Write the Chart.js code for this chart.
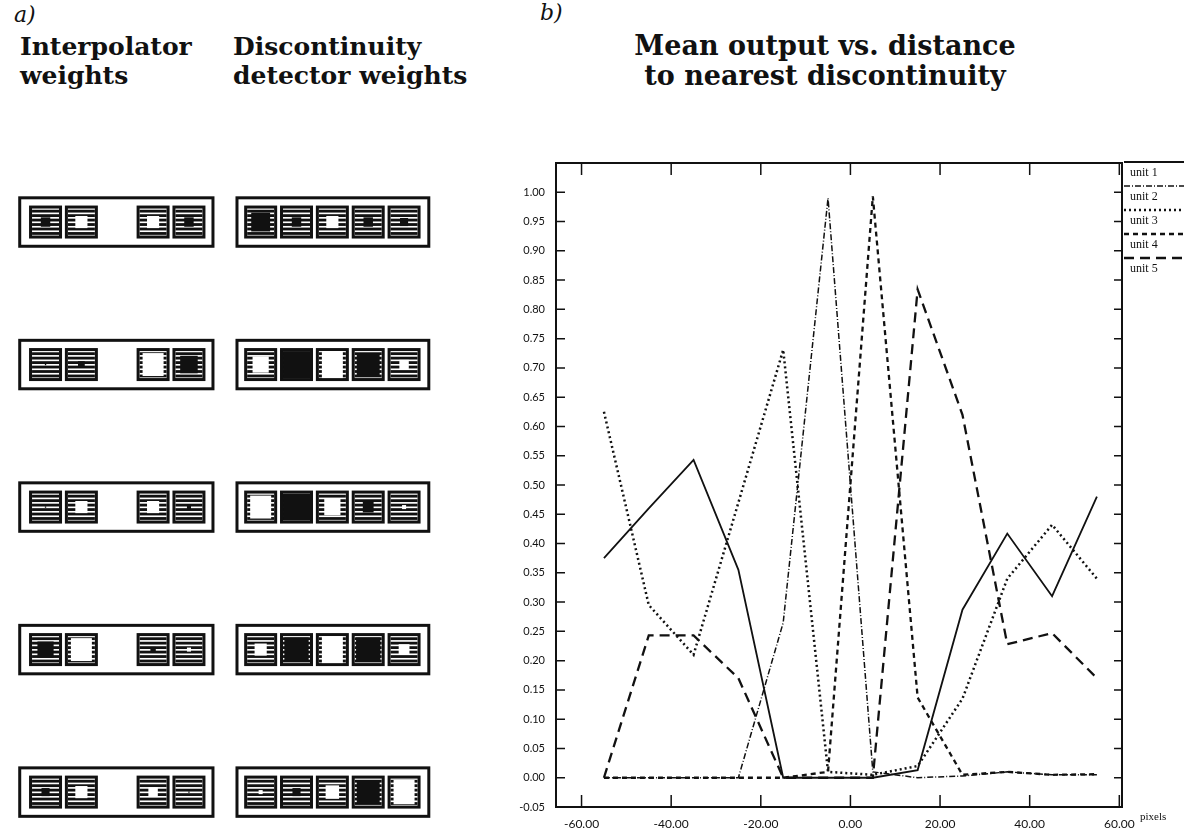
<!DOCTYPE html>
<html>
<head>
<meta charset="utf-8">
<script src="https://cdn.jsdelivr.net/npm/chart.js@4.4.1/dist/chart.umd.min.js"></script>
<style>
  body { margin: 0; background: #fff; width: 1190px; height: 834px; position: relative; overflow: hidden; }
  .txt { position: absolute; font-family: "DejaVu Serif", serif; color: #111; white-space: nowrap; }
  .head { font-weight: bold; font-size: 25px; line-height: 29px; }
  .tag { font-style: italic; font-size: 22px; }
  canvas { position: absolute; }
</style>
</head>
<body>
<div class="txt tag" style="left:14px; top:2px;">a)</div>
<div class="txt head" style="left:20px; top:32px;">Interpolator<br>weights</div>
<div class="txt head" style="left:233px; top:32px;">Discontinuity<br>detector weights</div>
<div class="txt tag" style="left:540px; top:0px;">b)</div>
<div class="txt head" style="left:545px; top:31px; width:560px; text-align:center; font-size:27px; line-height:30px;">Mean output vs. distance<br>to nearest discontinuity</div>

<canvas id="weights" width="460" height="654" style="left:0; top:180px;"></canvas>
<canvas id="myChart" width="710" height="704" style="left:480px; top:130px;"></canvas>

<script>
// distance to nearest discontinuity (pixels)
var xValues = [-55, -45, -35, -25, -15, -5, 5, 15, 25, 35, 45, 55];

// mean output of each hidden unit
var unit1 = [0.375, 0.46, 0.543, 0.355, 0, 0, 0, 0.013, 0.287, 0.417, 0.31, 0.48];
var unit2 = [0, 0, 0, 0, 0.265, 0.99, 0.01, 0, 0.003, 0.01, 0.005, 0.005];
var unit3 = [0.625, 0.295, 0.21, 0.47, 0.731, 0.01, 0.005, 0.02, 0.135, 0.34, 0.432, 0.34];
var unit4 = [0, 0, 0, 0, 0, 0.01, 0.993, 0.137, 0.005, 0.01, 0.005, 0.006];
var unit5 = [0, 0.243, 0.243, 0.17, 0, 0, 0, 0.834, 0.62, 0.228, 0.247, 0.17];

var unitNames = ['unit 1', 'unit 2', 'unit 3', 'unit 4', 'unit 5'];

// tick labels
var xTicks = [-60, -40, -20, 0, 20, 40, 60];
var yTicks = [-0.05, 0, 0.05, 0.10, 0.15, 0.20, 0.25, 0.30, 0.35, 0.40, 0.45, 0.50,
              0.55, 0.60, 0.65, 0.70, 0.75, 0.80, 0.85, 0.90, 0.95, 1.00];

// weights, one row per hidden unit (+ black, - white)
var interpWeights = [
  [0.35, -0.45, -0.45, 0.35],
  [0.05, 0.25, -0.85, 0.65],
  [0.05, -0.45, -0.45, 0.15],
  [0.6, -0.85, 0.2, -0.15],
  [0.3, -0.45, -0.35, 0.05]
];
var detectorWeights = [
  [0.7, 0.35, -0.45, 0.35, 0.3],
  [-0.6, 1.0, -1.0, 0.85, -0.35],
  [-0.85, 1.0, -0.6, 0.4, -0.15],
  [-0.45, 0.9, -1.0, 0.9, -0.4],
  [-0.15, 0.3, -0.5, 0.85, -0.9]
];
var interpSlots = [0, 1, 3, 4];
var detectorSlots = [6, 7, 8, 9, 10];

function pts(arr) {
  return arr.map(function (v, i) { return { x: xValues[i], y: v }; });
}

var lineStyles = [
  { dash: [], width: 1.8 },
  { dash: [6, 2, 1, 2], width: 1.5 },
  { dash: [2, 3], width: 2.5 },
  { dash: [5, 4], width: 2.3 },
  { dash: [10, 6], width: 2.3 }
];
var series = [unit1, unit2, unit3, unit4, unit5];

var datasets = series.map(function (s, i) {
  return {
    label: unitNames[i],
    data: pts(s),
    borderColor: '#111',
    borderWidth: lineStyles[i].width,
    borderDash: lineStyles[i].dash,
    pointRadius: 0,
    tension: 0,
    fill: false
  };
});

// box round the plot with inward ticks on every side, legend and axis name
var framePlugin = {
  id: 'frame',
  afterDraw: function (chart) {
    var ctx = chart.ctx, a = chart.chartArea;
    var xs = chart.scales.x, ys = chart.scales.y;
    ctx.save();
    ctx.strokeStyle = '#111';
    ctx.lineWidth = 2;
    ctx.setLineDash([]);
    ctx.strokeRect(a.left, a.top, a.right - a.left, a.bottom - a.top);
    ctx.lineWidth = 1.5;
    ctx.beginPath();
    xTicks.forEach(function (v) {
      var px = xs.getPixelForValue(v);
      ctx.moveTo(px, a.bottom); ctx.lineTo(px, a.bottom - 12);
      ctx.moveTo(px, a.top); ctx.lineTo(px, a.top + 12);
    });
    yTicks.forEach(function (v) {
      var py = ys.getPixelForValue(v);
      ctx.moveTo(a.left, py); ctx.lineTo(a.left + 9, py);
      ctx.moveTo(a.right, py); ctx.lineTo(a.right - 8, py);
    });
    ctx.stroke();

    // legend
    ctx.font = '12px "Liberation Serif", serif';
    ctx.fillStyle = '#111';
    ctx.textBaseline = 'alphabetic';
    chart.data.datasets.forEach(function (d, i) {
      var ly = a.top - 1 + i * 24;
      ctx.lineWidth = d.borderWidth;
      ctx.setLineDash(d.borderDash);
      ctx.beginPath();
      ctx.moveTo(a.right + 2, ly);
      ctx.lineTo(a.right + 62, ly);
      ctx.stroke();
      ctx.setLineDash([]);
      ctx.fillText(d.label, a.right + 8, ly + 14);
    });

    ctx.font = '11px "Liberation Serif", serif';
    ctx.fillText('pixels', a.right + 18, a.bottom + 13);
    ctx.restore();
  }
};

var graph = document.getElementById('myChart');
var myChart = new Chart(graph, {
  type: 'line',
  data: { datasets: datasets },
  options: {
    responsive: false,
    animation: false,
    layout: { padding: { top: 33, right: 68, left: 0, bottom: 0 } },
    plugins: { legend: { display: false }, tooltip: { enabled: false } },
    scales: {
      x: {
        type: 'linear',
        min: -65.7,
        max: 60.6,
        grid: { display: false, drawTicks: false },
        border: { display: false },
        afterBuildTicks: function (axis) {
          axis.ticks = xTicks.map(function (v) { return { value: v }; });
        },
        afterFit: function (scale) { scale.height = 27; },
        ticks: {
          padding: 10,
          color: '#111',
          maxRotation: 0,
          font: { family: 'Lato, sans-serif', size: 12 },
          callback: function (v) { return v.toFixed(2); }
        }
      },
      y: {
        type: 'linear',
        min: -0.05,
        max: 1.05,
        grid: { display: false, drawTicks: false },
        border: { display: false },
        afterBuildTicks: function (axis) {
          axis.ticks = yTicks.map(function (v) { return { value: v }; });
        },
        afterFit: function (scale) { scale.width = 76; },
        ticks: {
          padding: 11,
          color: '#111',
          font: { family: 'Lato, sans-serif', size: 11 },
          callback: function (v) { return v.toFixed(2); }
        }
      }
    }
  },
  plugins: [framePlugin]
});

// weight diagrams, placed through the chart's own scales
function drawCell(ctx, cx, cy, s, w) {
  var b = 3;
  var x0 = cx - s / 2, y0 = cy - s / 2;
  ctx.fillStyle = '#111';
  ctx.fillRect(x0, y0, s, s);
  var iw = s - 2 * b;
  ctx.fillStyle = '#fff';
  ctx.fillRect(x0 + b, y0 + b, iw, iw);
  ctx.fillStyle = '#111';
  for (var k = 0; k < 6; k++) {
    var sy = y0 + b + 1.2 + k * (iw - 2) / 5.6;
    ctx.fillRect(x0 + b, sy, iw, 2.8);
  }
  var m = Math.abs(w);
  if (m > 0.02) {
    var bw = m * iw, bh = m * iw;
    if (w > 0) {
      ctx.fillStyle = '#111';
    } else {
      ctx.fillStyle = '#fff';
      bw = Math.min(bw, iw - 6);
    }
    ctx.fillRect(cx - bw / 2, cy - bh / 2, bw, bh);
  }
}

var weightsPlugin = {
  id: 'weights',
  afterDraw: function (chart) {
    var ctx = chart.ctx;
    var xs = chart.scales.x, ys = chart.scales.y;
    var pitchX = xs.getPixelForValue(1) - xs.getPixelForValue(0);
    var pitchY = ys.getPixelForValue(1) - ys.getPixelForValue(0);
    var s = pitchX * 0.92;
    var bh = pitchY * 0.34;
    ctx.save();
    interpWeights.forEach(function (row, r) {
      var cy = ys.getPixelForValue(r);
      ctx.strokeStyle = '#111';
      ctx.lineWidth = 3;
      var l1 = xs.getPixelForValue(-0.72), r1 = xs.getPixelForValue(4.67);
      ctx.strokeRect(l1, cy - bh / 2, r1 - l1, bh);
      var l2 = xs.getPixelForValue(5.34), r2 = xs.getPixelForValue(10.69);
      ctx.strokeRect(l2, cy - bh / 2, r2 - l2, bh);
      row.forEach(function (w, i) {
        drawCell(ctx, xs.getPixelForValue(interpSlots[i]), cy, s, w);
      });
      detectorWeights[r].forEach(function (w, i) {
        drawCell(ctx, xs.getPixelForValue(detectorSlots[i]), cy, s, w);
      });
    });
    ctx.restore();
  }
};

var weightChart = new Chart(document.getElementById('weights'), {
  type: 'scatter',
  data: { datasets: [] },
  options: {
    responsive: false,
    animation: false,
    layout: { padding: 0 },
    plugins: { legend: { display: false }, tooltip: { enabled: false } },
    scales: {
      x: { type: 'linear', min: -1.27, max: 11.56, display: false },
      y: { type: 'linear', min: -0.295, max: 4.294, reverse: true, display: false }
    }
  },
  plugins: [weightsPlugin]
});
</script>
</body>
</html>
